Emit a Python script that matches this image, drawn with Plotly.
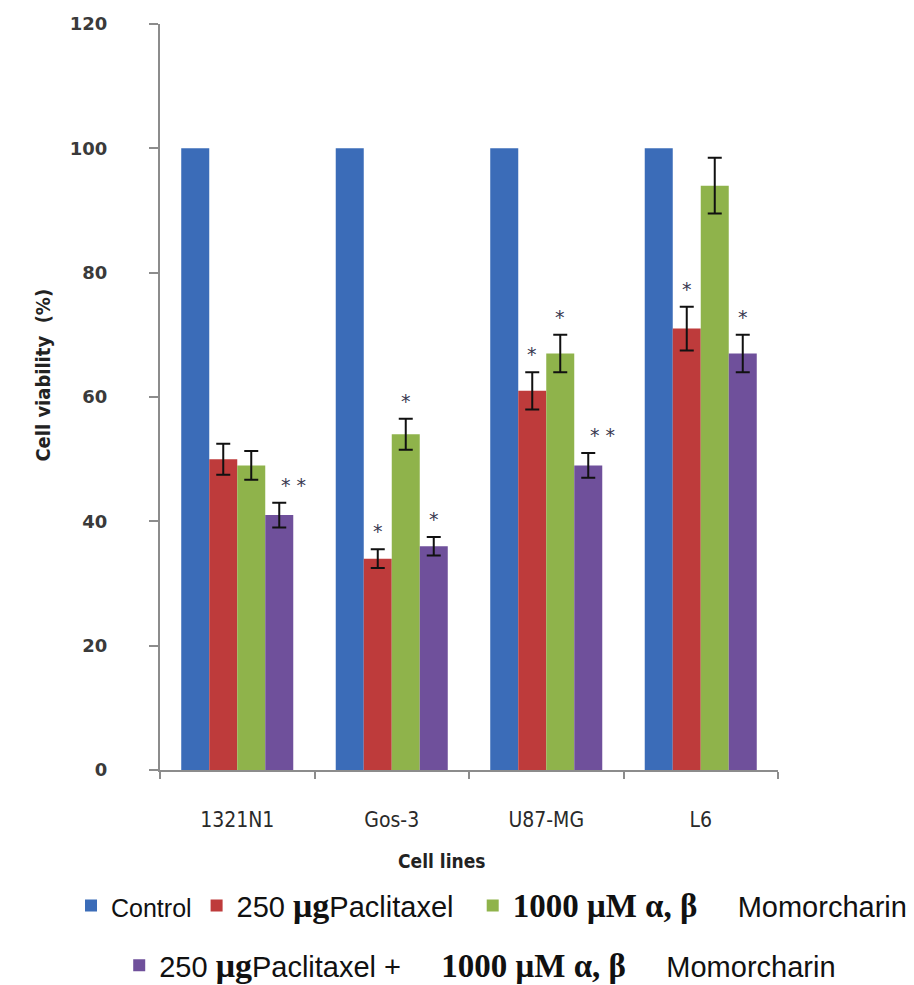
import plotly.graph_objects as go

# ---- data ----
cell_lines = ["1321N1", "Gos-3", "U87-MG", "L6"]
control = [100, 100, 100, 100]
paclitaxel = [50, 34, 61, 71]
paclitaxel_err = [2.5, 1.5, 3.0, 3.5]
momorcharin = [49, 54, 67, 94]
momorcharin_err = [2.3, 2.5, 3.0, 4.5]
combo = [41, 36, 49, 67]
combo_err = [2.0, 1.5, 2.0, 3.0]
# significance marks per series
paclitaxel_sig = ["", "*", "*", "*"]
momorcharin_sig = ["", "*", "*", ""]
combo_sig = ["* *", "*", "* *", "*"]

y_ticks = [0, 20, 40, 60, 80, 100, 120]

colors = ["#3B6CB8", "#BE3B3B", "#8FB34B", "#6F509B"]

mu = "<b><span style=\"font-family:'Liberation Serif', 'DejaVu Serif', serif;font-size:34px\">μg</span></b>"
bserif = "<b><span style=\"font-family:'Liberation Serif', serif;font-size:33px\">1000 μM α, β</span></b>"
names = [
    "<span style='font-size:25px'>Control</span>",
    "250 " + mu + "Paclitaxel",
    bserif + "     Momorcharin",
    "250 " + mu + "Paclitaxel +     " + bserif + "     Momorcharin",
]
legend_ids = ["legend", "legend", "legend3", "legend2"]

fig = go.Figure()
series = [
    (control, None),
    (paclitaxel, paclitaxel_err),
    (momorcharin, momorcharin_err),
    (combo, combo_err),
]
for j, (vals, err) in enumerate(series):
    kw = {}
    if err is not None:
        kw["error_y"] = dict(type="data", array=err, visible=True,
                             color="#111111", thickness=2, width=7)
    fig.add_trace(go.Bar(
        x=cell_lines, y=vals, name=names[j], marker_color=colors[j],
        marker_line_width=0, legend=legend_ids[j], **kw))

bargap = 0.275
bw = (1 - bargap) / 4
sigs = [(paclitaxel, paclitaxel_err, paclitaxel_sig, 1),
        (momorcharin, momorcharin_err, momorcharin_sig, 2),
        (combo, combo_err, combo_sig, 3)]
for vals, err, sig, j in sigs:
    for i, s in enumerate(sig):
        if not s:
            continue
        fig.add_annotation(
            x=i + (j - 1.5) * bw, y=vals[i] + err[i], xref="x", yref="y",
            text=s, showarrow=False, yanchor="bottom", yshift=5,
            xshift=14 if len(s) > 1 else 0,
            font=dict(family="DejaVu Sans", size=19, color="#3a3a50"))

axis_font = "Liberation Sans Narrow, DejaVu Sans Condensed, Arial Narrow, sans-serif"
fig.add_annotation(text="<b>Cell viability  (%)</b>", xref="paper", yref="paper",
                   x=-0.212, y=0.53, textangle=-90, showarrow=False,
                   font=dict(family=axis_font, size=20, color="#222222"))
fig.add_annotation(text="<b>Cell lines</b>", xref="paper", yref="paper",
                   x=0.455, y=-0.140, showarrow=False,
                   font=dict(family=axis_font, size=19, color="#222222"))

leg_common = dict(orientation="h", xref="paper", yref="paper", xanchor="left",
                  yanchor="middle", font=dict(size=29), bgcolor="rgba(0,0,0,0)",
                  traceorder="normal")

# page body adds an 8px offset; figure sized so the plot lands where the reference has it
fig.update_layout(
    width=906, height=977,
    margin=dict(l=152, r=136, t=16, b=215, autoexpand=False),
    paper_bgcolor="white", plot_bgcolor="white",
    barmode="group", bargap=bargap, bargroupgap=0,
    font=dict(family="Liberation Sans, Arial", size=29, color="#111111"),
    legend=dict(x=-0.144, y=-0.182, **leg_common),
    legend3=dict(x=0.506, y=-0.182, **leg_common),
    legend2=dict(x=-0.066, y=-0.262, **leg_common),
    showlegend=True,
)
fig.update_yaxes(range=[0, 120], tickvals=y_ticks, showgrid=False,
                 showline=True, linecolor="#8c8c8c", linewidth=2,
                 ticks="outside", ticklen=9, tickcolor="#8c8c8c", tickwidth=1.5,
                 ticklabelstandoff=38, zeroline=False,
                 tickfont=dict(family="DejaVu Sans", size=18, color="#3a3a3a", weight="bold"))
fig.update_xaxes(range=[-0.5, 3.5], showgrid=False, showline=True,
                 linecolor="#8c8c8c", linewidth=2, ticks="outside", ticklen=7,
                 tickcolor="#8c8c8c", tickwidth=1.5, tickson="boundaries",
                 ticklabelstandoff=30,
                 tickfont=dict(family=axis_font, size=21, color="#2a2a2a"))

fig.write_html("out.html")
